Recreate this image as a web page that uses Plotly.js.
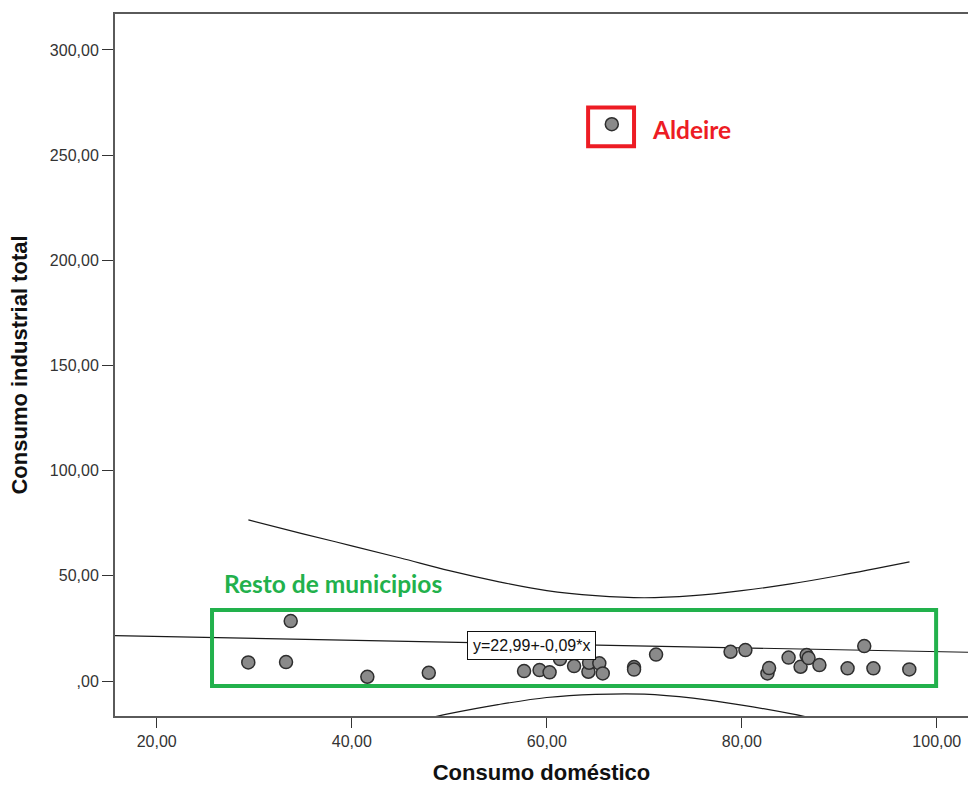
<!DOCTYPE html>
<html>
<head>
<meta charset="utf-8">
<script src="https://cdn.plot.ly/plotly-3.0.1.min.js"></script>
<style>html,body{margin:0;padding:0;background:#fff;}#chart{width:968px;height:785px;}</style>
</head>
<body>
<div id="chart"></div>
<script>
// Scatter data: Consumo doméstico (x) vs Consumo industrial total (y)
const consumoDomestico = [29.39, 33.74, 33.26, 41.60, 47.90, 57.67, 59.26, 60.29, 61.36, 62.80,
  64.27, 64.34, 65.39, 65.74, 68.95, 68.95, 71.21, 78.85, 80.37, 82.63,
  82.80, 84.80, 86.03, 86.65, 86.85, 87.96, 90.85, 92.56, 93.50, 97.18, 66.67];
const consumoIndustrial = [8.89, 28.53, 9.03, 2.04, 3.95, 4.76, 5.23, 4.14, 10.46, 7.13,
  4.42, 8.70, 8.42, 3.66, 6.66, 5.47, 12.60, 13.93, 14.74, 3.66,
  6.18, 11.17, 6.80, 12.36, 10.94, 7.61, 6.04, 16.64, 6.04, 5.56, 264.7];

// Regression line (as printed on the chart)
const intercept = 22.99;
const slope = -0.09;
const regX = [15, 104];

// 95% confidence band
const bandX = [29.4, 35, 40, 45, 50, 55, 60, 65, 70, 75, 80, 85, 90, 97.2];
const bandUpper = [76.6, 70.0, 64.3, 58.5, 52.5, 47.3, 43.0, 40.6, 39.6, 40.6, 43.0, 46.2, 50.2, 56.7];
const bandLower = [-35.9, -30.3, -25.5, -20.6, -15.5, -11.2, -7.8, -6.3, -6.2, -8.1, -11.4, -15.5, -20.4, -28.2];

// Tick labels
const xTickVals = [20, 40, 60, 80, 100];
const xTickText = ["20,00", "40,00", "60,00", "80,00", "100,00"];
const yTickVals = [0, 50, 100, 150, 200, 250, 300];
const yTickText = [",00", "50,00", "100,00", "150,00", "200,00", "250,00", "300,00"];

const regY = regX.map(x => intercept + slope * x);
const lineStyle = {color: '#1a1a1a', width: 1.2};

const traces = [
  {x: regX, y: regY, mode: 'lines', line: lineStyle, hoverinfo: 'skip', showlegend: false},
  {x: bandX, y: bandUpper, mode: 'lines', line: Object.assign({shape: 'spline', smoothing: 1.0}, lineStyle), hoverinfo: 'skip', showlegend: false},
  {x: bandX, y: bandLower, mode: 'lines', line: Object.assign({shape: 'spline', smoothing: 1.0}, lineStyle), hoverinfo: 'skip', showlegend: false},
  {x: consumoDomestico, y: consumoIndustrial, mode: 'markers', showlegend: false,
   marker: {size: 13, color: '#8a8a8a', line: {color: '#2e2e2e', width: 1.5}}}
];

const axisFont = {family: 'Liberation Sans, Arial, sans-serif', size: 16, color: '#333'};
const titleFont = {family: 'Liberation Sans, Arial, sans-serif', size: 22, color: '#111'};

const layout = {
  width: 968, height: 785,
  margin: {l: 115, r: 0, t: 14, b: 69},
  paper_bgcolor: '#fff', plot_bgcolor: '#fff',
  showlegend: false,
  xaxis: {
    range: [15.72, 103.2], showgrid: false, zeroline: false,
    showline: true, linecolor: '#5a5a5a', linewidth: 2, mirror: true,
    ticks: 'outside', ticklen: 10, tickwidth: 1, tickcolor: '#333',
    tickvals: xTickVals, ticktext: xTickText, tickfont: axisFont,
    title: {text: '<b>Consumo doméstico</b>', font: titleFont, standoff: 20}
  },
  yaxis: {
    range: [-16.6, 317.1], showgrid: false, zeroline: false,
    showline: true, linecolor: '#5a5a5a', linewidth: 2, mirror: false,
    ticks: 'outside', ticklen: 11, tickwidth: 1, tickcolor: '#333',
    tickvals: yTickVals, ticktext: yTickText, tickfont: axisFont,
    title: {text: '<b>Consumo industrial total</b>', font: titleFont, standoff: 16}
  },
  shapes: [
    {type: 'rect', xref: 'x', yref: 'y', x0: 25.67, x1: 99.93, y0: -2.38, y1: 33.76,
     line: {color: '#22b14c', width: 4}, fillcolor: 'rgba(0,0,0,0)'},
    {type: 'rect', xref: 'x', yref: 'y', x0: 64.24, x1: 68.95, y0: 254.2, y1: 272.7,
     line: {color: '#ed1c24', width: 4}, fillcolor: 'rgba(0,0,0,0)'}
  ],
  annotations: [
    {xref: 'x', yref: 'y', x: 58.39, y: 17.1, text: 'y=22,99+-0,09*x', showarrow: false,
     font: {family: 'Liberation Sans, Arial, sans-serif', size: 16, color: '#111'},
     bgcolor: '#fff', bordercolor: '#111', borderwidth: 1, borderpad: 5},
    {xref: 'x', yref: 'y', x: 70.6, y: 262.3, xanchor: 'left', text: '<b>Aldeire</b>', showarrow: false,
     font: {family: 'Lato, Open Sans, sans-serif', size: 24.5, color: '#ed1c24'}},
    {xref: 'x', yref: 'y', x: 26.7, y: 46.6, xanchor: 'left', text: '<b>Resto de municipios</b>', showarrow: false,
     font: {family: 'Lato, Open Sans, sans-serif', size: 24.5, color: '#22b14c'}}
  ]
};

Plotly.newPlot('chart', traces, layout, {displayModeBar: false, staticPlot: true});
</script>
</body>
</html>
